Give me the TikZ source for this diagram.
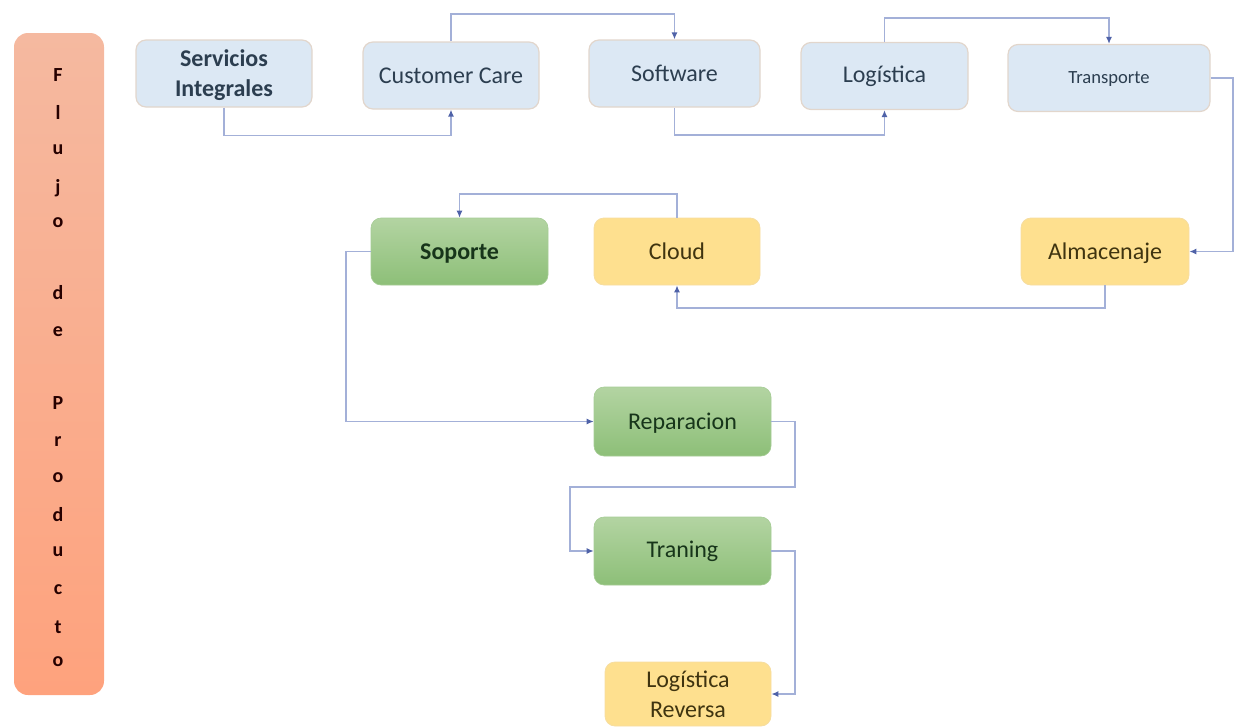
\documentclass[tikz,border=0pt]{standalone}
\usepackage{fontspec}
\setmainfont{Carlito}
\usetikzlibrary{arrows.meta}
\definecolor{conn}{HTML}{A3B0D8}
\definecolor{tipc}{HTML}{4F62A8}
\definecolor{blueA}{HTML}{DCE8F4}
\definecolor{edgeA}{HTML}{E2D6CC}
\definecolor{textB}{HTML}{2C3E50}
\definecolor{yellowA}{HTML}{FEE08F}
\definecolor{yellowB}{HTML}{F6DDA0}
\definecolor{textY}{HTML}{3F3410}
\definecolor{greenT}{HTML}{B3D4A2}
\definecolor{greenB}{HTML}{8DBF78}
\definecolor{greenE}{HTML}{A5CC95}
\definecolor{textG}{HTML}{17351A}
\definecolor{flujoT}{HTML}{F5B9A0}
\definecolor{flujoB}{HTML}{FEA27D}
\tikzset{
  x=1pt,y=-1pt,
  box/.style={rounded corners=10pt,minimum height=67pt,inner sep=0pt,align=center,font=\fontsize{24}{30}\selectfont},
  bluebox/.style={box,fill=blueA,draw=edgeA,line width=1.2pt,text=textB},
  yellowbox/.style={box,fill=yellowA,draw=yellowB,line width=.8pt,text=textY},
  greenbox/.style={box,top color=greenT,bottom color=greenB,draw=greenE,line width=.6pt,text=textG},
  lowered/.style={text depth=0pt},
  conn/.style={draw=conn,line width=1.3pt,-{Latex[length=7pt,width=6pt,color=tipc]}},
  letter/.style={font=\fontsize{20}{24}\selectfont\bfseries,text=black!85!red,inner sep=0pt},
}
\begin{document}
\begin{tikzpicture}
\useasboundingbox (0,0) rectangle (1243,726);
\path[rounded corners=14pt,top color=flujoT,bottom color=flujoB] (14,33) rectangle (104,695);
\foreach \n/\c/\y in {a/F/75,b/l/112,c/u/150,e/j/188,f/o/223,g/d/293,h/e/332,i/P/403,k/r/442,m/o/478,o/d/515,p/u/552,q/c/590,r/t/627,s/o/662}
  \node[letter] (l\n) at (58,\y) {\c};
\node[bluebox,lowered,minimum width=176pt] (serv) at (224,73.5) {\textbf{Servicios}\\\textbf{Integrales}};
\node[bluebox,minimum width=176pt] (cust) at (451,75.5) {Customer Care};
\node[bluebox,minimum width=171pt] (soft) at (674.5,73.5) {Software};
\node[bluebox,minimum width=167pt] (logi) at (884.5,76) {Logística};
\node[bluebox,lowered,minimum width=202pt,font=\fontsize{18.6}{22}\selectfont] (tran) at (1109,78) {Transporte};
\node[greenbox,lowered,minimum width=177pt,font=\fontsize{24}{30}\selectfont\bfseries] (sopo) at (459.5,251.5) {Soporte};
\node[yellowbox,minimum width=166pt] (clou) at (677,251.5) {Cloud};
\node[yellowbox,lowered,minimum width=168pt] (alma) at (1105,251.5) {Almacenaje};
\node[greenbox,lowered,minimum width=177pt,minimum height=69pt] (repa) at (682.5,421.5) {Reparacion};
\node[greenbox,minimum width=177pt,minimum height=68pt] (tra2) at (682.5,551) {Traning};
\node[yellowbox,minimum width=166pt,minimum height=64pt] (lrev) at (688,694) {Logística\\Reversa};
\draw[conn] (serv.south) -- ++(0,28) -| (cust.south);
\draw[conn] (cust.north) |- (563,14) -| (soft.north);
\draw[conn] (soft.south) |- (780,135) -| (logi.south);
\draw[conn] (logi.north) |- (1000,18) -| (tran.north);
\draw[conn] (tran.east) -| (1233,170) |- (alma.east);
\draw[conn] (alma.south) |- (900,308) -| (clou.south);
\draw[conn] (clou.north) |- (570,194) -| (sopo.north);
\draw[conn] (sopo.west) -| (346,340) |- (repa.west);
\draw[conn] (repa.east) -| (795,487) -- (570,487) |- (tra2.west);
\draw[conn] (tra2.east) -| (795,620) |- (lrev.east);
\end{tikzpicture}
\end{document}
